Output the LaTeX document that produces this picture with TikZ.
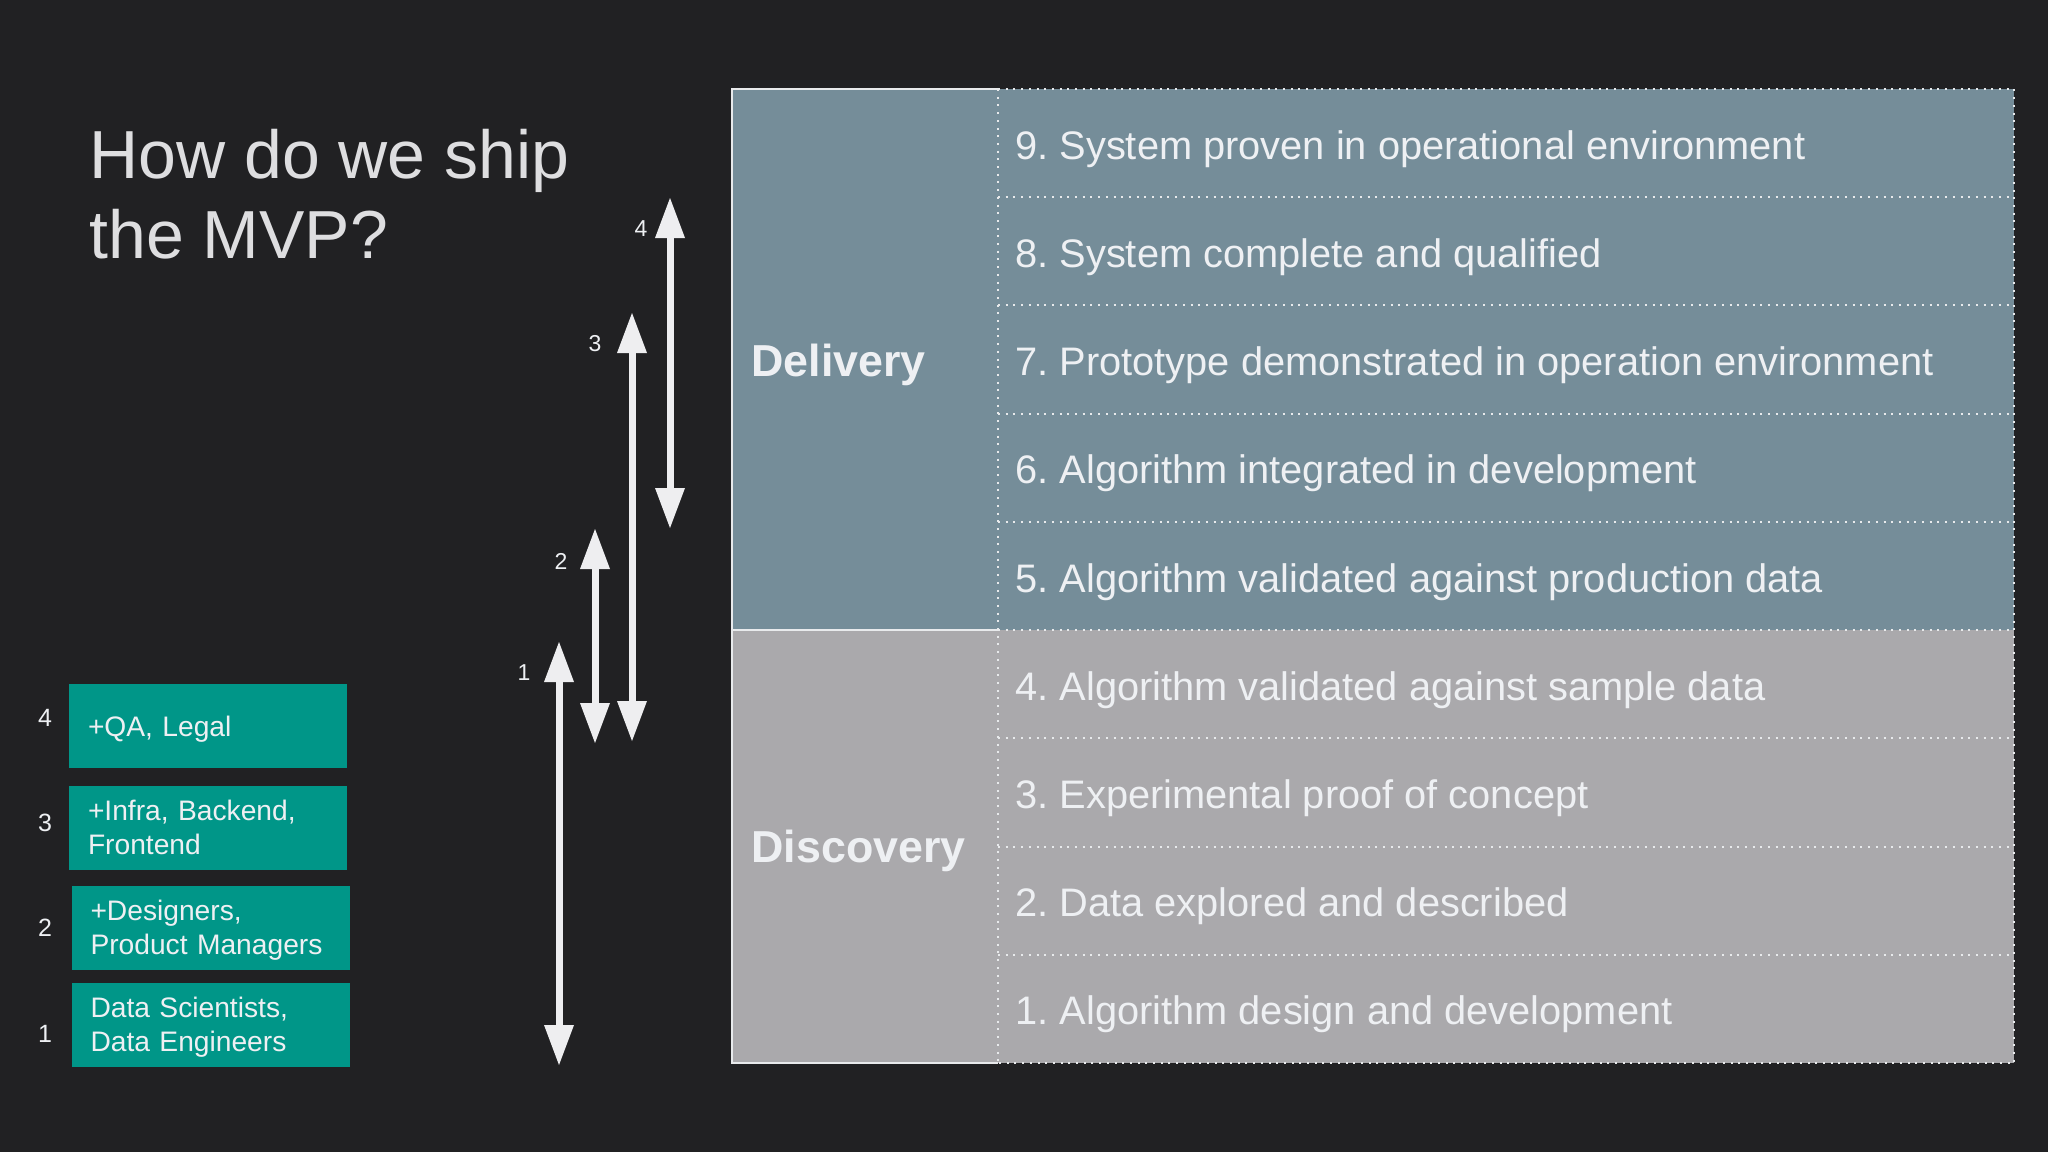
\documentclass[tikz,border=0pt]{standalone}
\usepackage{fontspec}
\setmainfont{Liberation Sans}
\usetikzlibrary{arrows.meta}
\frenchspacing
\definecolor{bgc}{RGB}{33,33,35}
\definecolor{delivc}{RGB}{117,141,153}
\definecolor{discc}{RGB}{170,169,172}
\definecolor{tealc}{RGB}{0,150,136}
\definecolor{fgc}{RGB}{238,240,243}
\definecolor{titlec}{RGB}{222,222,224}
\definecolor{arrowc}{RGB}{238,238,240}
\definecolor{linec}{RGB}{232,234,236}
\tikzset{
  itemtext/.style={anchor=base west, inner sep=0pt, text=fgc, font=\fontsize{19.9pt}{24pt}\selectfont\frenchspacing},
  phaselabel/.style={anchor=base west, inner sep=0pt, text=fgc, font=\bfseries\fontsize{22.4pt}{26pt}\selectfont},
  titletext/.style={anchor=base west, inner sep=0pt, text=titlec, font=\fontsize{34pt}{40pt}\selectfont},
  teambox/.style={fill=tealc, minimum width=139pt, minimum height=42pt, inner xsep=9.5pt, inner ysep=0pt,
    text width=120pt, text depth=17pt, align=left, text=fgc, font=\fontsize{14.1pt}{17pt}\selectfont},
  numlabel/.style={inner sep=0pt, text=fgc, font=\fontsize{12.5pt}{14pt}\selectfont},
  arrlabel/.style={inner sep=0pt, text=fgc, font=\fontsize{11.5pt}{13pt}\selectfont},
  dblarrow/.style={draw=arrowc, line width=3.5pt,
    {Triangle[length=20pt,width=15pt,line width=0pt]}-{Triangle[length=20pt,width=15pt,line width=0pt]}},
  dotline/.style={draw=linec, line width=1pt, dash pattern=on 1pt off 2.85pt},
  solidline/.style={draw=linec, line width=1.2pt}
}
\begin{document}
\begin{tikzpicture}[x=0.5pt,y=-0.5pt]
\fill[bgc] (0,0) rectangle (2048,1152);
\useasboundingbox (0,0) rectangle (2048,1152);

% title
\node[titletext] (title1) at (89,178) {How do we ship};
\node[titletext] (title2) at (89,258) {the MVP?};

% table fills
\fill[delivc] (732,89) rectangle (2014,630);
\fill[discc] (732,630) rectangle (2014,1063);

% dotted grid on right column
\draw[dotline] (998,89) -- (2014,89) -- (2014,1063) -- (998,1063);
\draw[dotline] (998,89) -- (998,1063);
\foreach \k in {1,...,8} {
  \draw[dotline] (998,{89+108.222*\k}) -- (2014,{89+108.222*\k});
}
% solid outline of left column
\draw[solidline] (998,89) -- (732,89) -- (732,1063) -- (998,1063);
\draw[solidline] (732,630) -- (998,630);

% phase labels
\node[phaselabel] (delivery) at (751,376) {Delivery};
\node[phaselabel] (discovery) at (751,862.5) {Discovery};

% rows
\node[itemtext] (r9) at (1015,159.1) {9. System proven in operational environment};
\node[itemtext] (r8) at (1015,267.3) {8. System complete and qualified};
\node[itemtext] (r7) at (1015,375.5) {7. Prototype demonstrated in operation environment};
\node[itemtext] (r6) at (1015,483.8) {6. Algorithm integrated in development};
\node[itemtext] (r5) at (1015,592.0) {5. Algorithm validated against production data};
\node[itemtext] (r4) at (1015,700.2) {4. Algorithm validated against sample data};
\node[itemtext] (r3) at (1015,808.4) {3. Experimental proof of concept};
\node[itemtext] (r2) at (1015,916.6) {2. Data explored and described};
\node[itemtext] (r1) at (1015,1024.9) {1. Algorithm design and development};

% team boxes
\node[teambox, text depth=0pt] (b4) at (208,726) {+QA, Legal};
\node[teambox] (b3) at (208,827.5) {+Infra, Backend,\\Frontend};
\node[teambox] (b2) at (210.5,927.5) {+Designers,\\Product Managers};
\node[teambox] (b1) at (210.5,1024.5) {Data Scientists,\\Data Engineers};

\node[numlabel] (n4) at (45,718) {4};
\node[numlabel] (n3) at (45,823) {3};
\node[numlabel] (n2) at (45,928) {2};
\node[numlabel] (n1) at (45,1034) {1};

% arrows
\coordinate (a1t) at (559,642);
\coordinate (a1b) at (559,1065);
\coordinate (a2t) at (595,529);
\coordinate (a2b) at (595,743);
\coordinate (a3t) at (632,313);
\coordinate (a3b) at (632,741);
\coordinate (a4t) at (670,198);
\coordinate (a4b) at (670,528);
\draw[dblarrow] (a1t) -- (a1b);
\draw[dblarrow] (a2t) -- (a2b);
\draw[dblarrow] (a3t) -- (a3b);
\draw[dblarrow] (a4t) -- (a4b);

\node[arrlabel] (l1) at (524,673) {1};
\node[arrlabel] (l2) at (561,561) {2};
\node[arrlabel] (l3) at (595,344) {3};
\node[arrlabel] (l4) at (641,229) {4};
\end{tikzpicture}
\end{document}
